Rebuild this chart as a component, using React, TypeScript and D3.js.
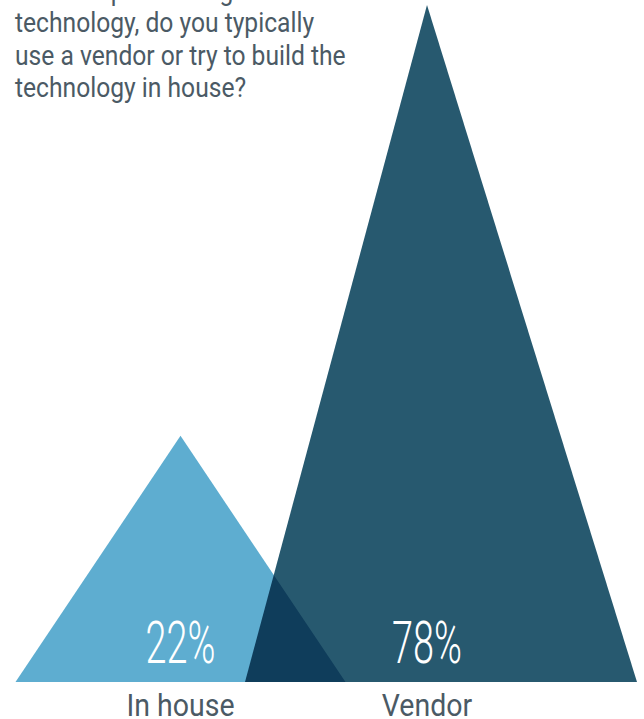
import React from "react";
import * as d3 from "d3";

const categories = ["In house", "Vendor"];
const values = [22, 78];
const valueLabels = ["22%", "78%"];
const titleLines = [
  "When implementing new",
  "technology, do you typically",
  "use a vendor or try to build the",
  "technology in house?",
];

const W = 644;
const H = 719;
const baseY = 682;
const colors = ["#5eadd0", "#27596f"];
// left/right spread of each triangle's base around its apex, px
const spread = [
  [165, 165],
  [182, 210],
];

export default function App() {
  const x = d3.scalePoint<string>().domain(categories).range([180.5, 427]);
  const y = d3.scaleLinear().domain([-10, 78]).range([baseY, 5]);

  const tri = (i: number) => {
    const cx = x(categories[i])!;
    const pts: [number, number][] = [
      [cx - spread[i][0], y(-10)],
      [cx, y(values[i])],
      [cx + spread[i][1], y(-10)],
    ];
    return d3.line()(pts)! + "Z";
  };

  return (
    <svg
      width={W}
      height={H}
      style={{ position: "absolute", left: 0, top: 0, display: "block" }}
    >
      <rect width={W} height={H} fill="#ffffff" />
      <g style={{ isolation: "isolate" }}>
        <path d={tri(0)} fill={colors[0]} />
        <path d={tri(1)} fill={colors[1]} style={{ mixBlendMode: "multiply" }} />
      </g>
      {titleLines.map((t, i) => (
        <text
          key={i}
          transform={`translate(15, ${-0.5 + i * 32.5}) scale(0.88, 1)`}
          fontFamily="Roboto"
          fontSize={28}
          fill="#4b5a65"
        >
          {t}
        </text>
      ))}
      {categories.map((c, i) => (
        <g key={c}>
          <text
            transform={`translate(${x(c)}, 663) scale(0.63, 1)`}
            textAnchor="middle"
            fontFamily="Roboto"
            fontWeight={300}
            fontSize={60}
            fill="#ffffff"
          >
            {valueLabels[i]}
          </text>
          <text
            transform={`translate(${x(c)}, 716) scale(0.92, 1)`}
            textAnchor="middle"
            fontFamily="Roboto"
            fontSize={31}
            fill="#4b5a65"
          >
            {c}
          </text>
        </g>
      ))}
    </svg>
  );
}
